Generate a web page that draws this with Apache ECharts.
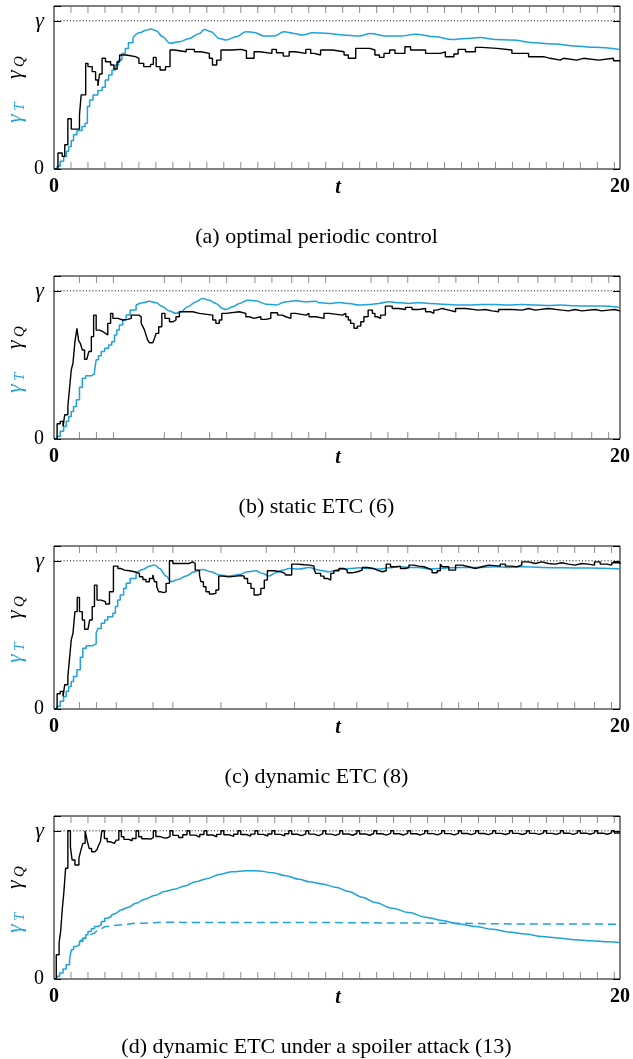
<!DOCTYPE html>
<html><head><meta charset="utf-8">
<script src="https://cdn.jsdelivr.net/npm/echarts@6/dist/echarts.min.js"></script>
<style>html,body{margin:0;padding:0;background:#fff}#c{width:633px;height:1059px}</style>
</head><body><div id="c"></div>
<script>
// ---------- DATA ----------
const xTicks = [0, 20];
const yTicks = [0, 1];
const yTickText = ['0', 'γ'];
const xName = 't';
const captions = ['(a) optimal periodic control', '(b) static ETC (6)', '(c) dynamic ETC (8)', '(d) dynamic ETC under a spoiler attack (13)'];

// event instants (tick marks on top/bottom of the frames)
const aEv = [0.6,1.2,1.8,2.4,3.0,3.6,4.2,4.8,5.4,6.0,6.6,7.2,7.8,8.4,9.0,9.6,10.2,10.8,11.4,12.0,12.6,13.2,13.8,14.4,15.0,15.6,16.2,16.8,17.4,18.0,18.6,19.2,19.8];
const bEv = [0.9,1.5,2.1,3.9,4.5,5.5,6.1,7.1,7.7,8.4,9.0,9.6,11.2,11.8,12.5,13.6,14.2,15.0,15.7,16.4,17.1,17.7,18.3,19.0,19.6];
const cEv = [0.9,1.5,2.2,3.5,4.2,5.9,7.5,8.5,9.9,10.7,11.8,12.5,13.7,14.3,15.0,15.7,16.5,17.1,17.8,18.4,19.1,19.7];
const dEv = [0.6,1.2,1.8,2.4,3.0,3.6,4.2,4.8,5.4,6.0,6.6,7.2,7.8,8.4,9.0,9.6,10.2,10.8,11.4,12.0,12.6,13.2,13.8,14.4,15.0,15.6,16.2,16.8,17.4,18.0,18.6,19.2,19.8];

// (a) gamma_Q (step)
const aQ = [[0,0],[0.14,0.108],[0.29,0.085],[0.38,0.164],[0.49,0.339],[0.61,0.269],[0.9,0.365],[0.96,0.5],[1.12,0.713],[1.2,0.691],[1.35,0.657],[1.47,0.601],[1.55,0.561],[1.61,0.641],[1.7,0.747],[1.82,0.724],[2.0,0.702],[2.12,0.675],[2.23,0.724],[2.32,0.769],[2.55,0.758],[2.88,0.747],[3.0,0.713],[3.17,0.691],[3.41,0.706],[3.51,0.753],[3.61,0.691],[3.75,0.668],[3.94,0.691],[4.1,0.803],[4.25,0.791],[4.67,0.807],[4.96,0.791],[5.19,0.78],[5.49,0.747],[5.6,0.702],[5.75,0.735],[5.9,0.803],[6.31,0.807],[6.6,0.798],[6.8,0.747],[7.07,0.791],[7.27,0.78],[7.7,0.807],[7.86,0.785],[8.1,0.762],[8.31,0.791],[8.52,0.78],[8.9,0.807],[9.07,0.78],[9.19,0.769],[9.42,0.803],[9.84,0.791],[10.25,0.769],[10.4,0.747],[10.66,0.814],[11.16,0.803],[11.34,0.769],[11.5,0.753],[11.66,0.78],[11.86,0.803],[12.05,0.78],[12.4,0.825],[12.6,0.803],[13.13,0.78],[13.66,0.791],[13.83,0.758],[14.13,0.776],[14.28,0.807],[14.54,0.791],[14.89,0.821],[15.12,0.814],[15.65,0.803],[16.18,0.78],[16.77,0.758],[17.3,0.747],[17.53,0.735],[17.89,0.747],[18.0,0.735],[18.47,0.747],[18.71,0.735],[19.24,0.747],[19.77,0.731],[20,0.731]];
// (a) gamma_T : staircase start, then smooth
const aTs = [[0,0],[0.11,0.018],[0.22,0.052],[0.34,0.085],[0.44,0.119],[0.52,0.152],[0.61,0.193],[0.69,0.231],[0.81,0.26],[0.99,0.287],[1.1,0.309],[1.18,0.422],[1.26,0.466],[1.38,0.5],[1.55,0.529],[1.7,0.552],[1.81,0.601],[1.93,0.635],[2.05,0.668],[2.16,0.702],[2.28,0.735],[2.4,0.78],[2.52,0.814],[2.63,0.852],[2.79,0.888]];
const aT = [[2.79,0.888],[3.02,0.919],[3.26,0.937],[3.43,0.944],[3.61,0.933],[3.84,0.892],[4.1,0.848],[4.43,0.859],[4.78,0.881],[5.14,0.915],[5.31,0.942],[5.55,0.926],[5.84,0.881],[6.08,0.87],[6.43,0.892],[6.78,0.926],[7.07,0.922],[7.43,0.897],[7.78,0.897],[8.13,0.926],[8.48,0.915],[8.78,0.904],[9.13,0.919],[9.72,0.915],[10.19,0.904],[10.78,0.897],[11.19,0.915],[11.72,0.897],[12.25,0.897],[12.77,0.91],[13.48,0.892],[14.07,0.874],[14.54,0.881],[15.06,0.888],[15.59,0.874],[16.18,0.87],[17.0,0.852],[17.71,0.843],[18.41,0.83],[19.12,0.821],[20,0.807]];

// (b)
const bQ = [[0,0],[0.11,0.103],[0.22,0.119],[0.32,0.085],[0.38,0.164],[0.49,0.22],[0.55,0.343],[0.61,0.466],[0.67,0.511],[0.74,0.657],[0.81,0.747],[0.87,0.664],[0.93,0.646],[1.0,0.601],[1.08,0.538],[1.16,0.534],[1.23,0.59],[1.32,0.691],[1.4,0.836],[1.49,0.735],[1.61,0.724],[1.73,0.713],[1.82,0.702],[1.9,0.78],[2.0,0.848],[2.08,0.814],[2.26,0.803],[2.43,0.807],[2.61,0.814],[2.73,0.836],[3.0,0.825],[3.08,0.78],[3.14,0.758],[3.2,0.735],[3.25,0.702],[3.31,0.668],[3.37,0.65],[3.49,0.657],[3.55,0.679],[3.61,0.713],[3.7,0.758],[3.81,0.848],[3.92,0.814],[4.08,0.791],[4.2,0.803],[4.31,0.825],[4.43,0.859],[4.9,0.848],[5.14,0.836],[5.61,0.803],[5.72,0.78],[5.84,0.803],[5.93,0.848],[6.08,0.859],[6.55,0.848],[6.78,0.825],[6.9,0.814],[7.07,0.825],[7.31,0.807],[7.49,0.814],[7.66,0.852],[7.9,0.836],[8.07,0.825],[8.19,0.814],[8.37,0.848],[8.54,0.836],[8.9,0.848],[9.01,0.825],[9.25,0.814],[9.54,0.848],[9.72,0.836],[10.19,0.848],[10.31,0.825],[10.4,0.803],[10.48,0.78],[10.6,0.747],[10.72,0.762],[10.84,0.791],[10.95,0.825],[11.1,0.87],[11.25,0.848],[11.34,0.825],[11.42,0.814],[11.54,0.836],[11.71,0.897],[11.95,0.881],[12.19,0.874],[12.42,0.888],[12.65,0.874],[12.89,0.881],[13.13,0.859],[13.3,0.848],[13.42,0.87],[13.54,0.881],[13.71,0.87],[13.95,0.859],[14.19,0.881],[14.54,0.87],[15.01,0.874],[15.25,0.865],[15.48,0.859],[15.71,0.874],[16.18,0.87],[16.54,0.881],[16.77,0.87],[17.0,0.881],[17.47,0.87],[17.94,0.865],[18.18,0.874],[18.41,0.865],[18.65,0.874],[19.12,0.865],[19.35,0.87],[19.59,0.874],[19.82,0.865],[20,0.865]];
const bTs = [[0,0],[0.11,0.018],[0.22,0.052],[0.34,0.085],[0.43,0.119],[0.52,0.152],[0.61,0.186],[0.69,0.22],[0.79,0.265],[0.9,0.35],[1.0,0.41],[1.12,0.426],[1.32,0.439],[1.43,0.455],[1.49,0.534],[1.57,0.561],[1.67,0.59],[1.79,0.612],[1.93,0.635],[2.04,0.657],[2.14,0.702],[2.22,0.735],[2.31,0.769],[2.43,0.803],[2.55,0.836],[2.69,0.87],[2.9,0.904]];
const bT = [[2.9,0.904],[3.14,0.919],[3.37,0.93],[3.61,0.919],[3.84,0.892],[4.08,0.863],[4.31,0.848],[4.49,0.859],[4.72,0.892],[5.02,0.926],[5.25,0.948],[5.49,0.937],[5.72,0.915],[5.96,0.881],[6.08,0.874],[6.31,0.892],[6.55,0.915],[6.84,0.937],[7.13,0.933],[7.49,0.91],[7.84,0.904],[8.19,0.926],[8.54,0.933],[8.9,0.926],[9.25,0.93],[9.37,0.919],[9.72,0.915],[10.07,0.922],[10.42,0.915],[10.78,0.904],[11.13,0.908],[11.48,0.915],[11.83,0.926],[12.19,0.919],[12.54,0.915],[12.89,0.919],[13.25,0.915],[13.71,0.91],[14.19,0.904],[14.65,0.904],[15.12,0.908],[15.59,0.908],[16.06,0.904],[16.53,0.908],[17.0,0.904],[17.47,0.901],[17.94,0.904],[18.41,0.899],[18.88,0.897],[19.35,0.897],[20,0.888]];

// (c)
const cQ = [[0,0],[0.11,0.103],[0.22,0.119],[0.32,0.085],[0.38,0.164],[0.49,0.22],[0.55,0.343],[0.61,0.466],[0.67,0.511],[0.74,0.657],[0.82,0.753],[0.9,0.657],[1.0,0.601],[1.08,0.538],[1.2,0.534],[1.26,0.601],[1.35,0.691],[1.43,0.836],[1.52,0.735],[1.67,0.724],[1.82,0.709],[1.96,0.791],[2.1,0.964],[2.26,0.948],[2.37,0.937],[2.49,0.933],[2.67,0.926],[2.84,0.915],[3.02,0.892],[3.14,0.874],[3.25,0.859],[3.37,0.881],[3.49,0.904],[3.55,0.859],[3.63,0.825],[3.7,0.791],[3.78,0.785],[3.87,0.791],[3.96,0.848],[4.08,1.0],[4.2,0.982],[4.78,0.993],[4.9,0.982],[4.99,0.937],[5.14,0.904],[5.19,0.859],[5.28,0.825],[5.37,0.791],[5.49,0.776],[5.61,0.78],[5.72,0.803],[5.82,0.897],[5.96,0.892],[6.19,0.897],[6.43,0.901],[6.6,0.897],[6.72,0.881],[6.84,0.848],[6.96,0.814],[7.07,0.769],[7.19,0.776],[7.31,0.814],[7.43,0.87],[7.54,0.933],[7.78,0.926],[8.01,0.919],[8.13,0.915],[8.19,0.904],[8.4,0.978],[8.6,0.973],[8.84,0.971],[9.04,0.964],[9.19,0.942],[9.25,0.915],[9.42,0.897],[9.54,0.881],[9.66,0.87],[9.78,0.915],[9.89,0.933],[10.07,0.948],[10.25,0.937],[10.36,0.919],[10.54,0.926],[10.72,0.937],[10.89,0.955],[11.07,0.948],[11.3,0.937],[11.42,0.926],[11.6,0.933],[11.74,0.978],[11.89,0.96],[12.07,0.964],[12.24,0.948],[12.42,0.955],[12.54,0.971],[12.71,0.964],[12.89,0.96],[13.07,0.948],[13.24,0.937],[13.36,0.919],[13.54,0.933],[13.65,0.978],[13.72,0.96],[13.95,0.937],[14.19,0.971],[14.42,0.96],[14.66,0.948],[14.89,0.96],[15.12,0.971],[15.36,0.964],[15.77,0.978],[15.95,0.964],[16.13,0.96],[16.36,0.971],[16.53,0.993],[16.77,0.982],[17.0,0.993],[17.24,0.982],[17.47,0.978],[17.71,0.987],[17.94,0.978],[18.18,0.971],[18.41,0.982],[18.65,0.978],[18.88,0.971],[19.1,0.993],[19.3,0.978],[19.53,0.971],[19.71,0.987],[20,0.978]];
const cTs = [[0,0],[0.11,0.018],[0.22,0.052],[0.34,0.085],[0.43,0.119],[0.52,0.152],[0.61,0.186],[0.69,0.22],[0.81,0.265],[0.93,0.35],[1.02,0.41],[1.14,0.426],[1.35,0.439],[1.49,0.511],[1.55,0.544],[1.67,0.578],[1.79,0.601],[1.9,0.623],[2.08,0.646],[2.17,0.691],[2.25,0.735],[2.34,0.769],[2.46,0.814],[2.55,0.848],[2.69,0.881],[2.9,0.915]];
const cT = [[2.9,0.915],[3.14,0.942],[3.37,0.964],[3.55,0.971],[3.73,0.948],[3.96,0.897],[4.14,0.859],[4.37,0.874],[4.67,0.897],[4.96,0.926],[5.25,0.942],[5.55,0.926],[5.84,0.904],[6.19,0.897],[6.55,0.908],[6.84,0.926],[7.13,0.933],[7.37,0.915],[7.6,0.897],[7.84,0.919],[8.07,0.937],[8.31,0.948],[8.66,0.944],[9.01,0.955],[9.37,0.937],[9.72,0.926],[10.07,0.942],[10.42,0.948],[10.78,0.953],[11.13,0.948],[11.48,0.944],[11.83,0.953],[12.19,0.96],[12.54,0.955],[12.89,0.955],[13.25,0.946],[13.6,0.948],[13.95,0.953],[14.3,0.955],[15.12,0.955],[15.59,0.96],[16.06,0.955],[16.53,0.96],[17.24,0.955],[17.94,0.953],[18.88,0.951],[20,0.944]];

// (d)
const dQ = [[0,0],[0.08,0.164],[0.18,0.242],[0.24,0.332],[0.29,0.466],[0.35,0.59],[0.41,0.747],[0.49,1.0],[0.58,0.892],[0.64,0.803],[0.74,0.769],[0.88,0.814],[0.95,0.87],[1.02,0.915],[1.1,1.0],[1.17,0.937],[1.24,0.881],[1.33,0.859],[1.45,0.852],[1.52,0.874],[1.58,0.904],[1.64,0.926],[1.69,1.0],[1.78,0.948],[1.88,0.926],[2.0,0.915],[2.13,0.92],[2.2,0.937],[2.29,1.0],[2.38,0.96],[2.47,0.942],[2.64,0.933],[2.76,0.948],[2.9,1.0],[2.99,0.96],[3.1,0.946],[3.3,0.944],[3.42,0.955],[3.51,1.0],[3.6,0.962],[3.72,0.951],[3.92,0.953],[4.01,0.962],
[4.1,1],[4.2,0.969],[4.4,0.955],[4.55,0.973],[4.7,1],[4.8,0.971],[5.0,0.958],[5.15,0.975],[5.3,1],[5.4,0.972],[5.6,0.96],[5.75,0.976],[5.9,1],[6.0,0.973],[6.2,0.962],[6.35,0.977],[6.5,1],[6.6,0.975],[6.8,0.964],[6.95,0.978],[7.1,1],[7.2,0.976],[7.4,0.965],[7.55,0.979],[7.7,1],[7.8,0.976],[8.0,0.966],[8.15,0.98],[8.3,1],[8.4,0.977],[8.6,0.967],[8.75,0.98],[8.9,1],[9.0,0.978],[9.2,0.968],[9.35,0.981],[9.5,1],[9.6,0.978],[9.8,0.969],[9.95,0.981],[10.1,1],[10.2,0.979],[10.4,0.97],[10.55,0.982],[10.7,1],[10.8,0.979],[11.0,0.97],[11.15,0.982],[11.3,1],[11.4,0.98],[11.6,0.971],[11.75,0.983],[11.9,1],[12.0,0.98],[12.2,0.972],[12.35,0.983],[12.5,1],[12.6,0.98],[12.8,0.972],[12.95,0.983],[13.1,1],[13.2,0.981],[13.4,0.973],[13.55,0.984],[13.7,1],[13.8,0.981],[14.0,0.973],[14.15,0.984],[14.3,1],[14.4,0.982],[14.6,0.974],[14.75,0.984],[14.9,1],[15.0,0.982],[15.2,0.974],[15.35,0.984],[15.5,1],[15.6,0.983],[15.8,0.975],[15.95,0.985],[16.1,1],[16.2,0.983],[16.4,0.975],[16.55,0.985],[16.7,1],[16.8,0.983],[17.0,0.976],[17.15,0.986],[17.3,1],[17.4,0.983],[17.6,0.976],[17.75,0.986],[17.9,1],[18.0,0.984],[18.2,0.976],[18.35,0.986],[18.5,1],[18.6,0.984],[18.8,0.977],[18.95,0.986],[19.1,1],[19.2,0.984],[19.4,0.977],[19.55,0.986],[19.7,1],[19.8,0.985],[20,0.985]];
const dTs = [[0,0],[0.11,0.018],[0.2,0.04],[0.32,0.067],[0.43,0.096],[0.55,0.13],[0.61,0.197],[0.69,0.22],[0.79,0.231],[0.9,0.253],[1.02,0.276],[1.12,0.298],[1.2,0.321],[1.32,0.339],[1.43,0.354],[1.55,0.365],[1.67,0.388],[1.79,0.41],[1.9,0.422],[2.02,0.43]];
const dT = [[2.02,0.43],[2.14,0.439],[2.37,0.466],[2.61,0.482],[2.9,0.511],[3.2,0.538],[3.55,0.563],[3.9,0.59],[4.25,0.605],[4.61,0.628],[5.02,0.657],[5.43,0.679],[5.84,0.706],[6.31,0.724],[6.78,0.731],[7.25,0.729],[7.72,0.717],[8.19,0.697],[8.66,0.673],[9.01,0.657],[9.48,0.641],[9.95,0.619],[10.42,0.59],[10.89,0.552],[11.36,0.516],[11.95,0.478],[12.54,0.448],[13.13,0.417],[13.71,0.395],[14.3,0.372],[14.89,0.354],[15.48,0.336],[16.06,0.318],[16.65,0.303],[17.24,0.287],[17.83,0.276],[18.41,0.265],[18.99,0.258],[19.59,0.251],[20,0.247]];
const dTd = [[0.9,0.253],[1.14,0.276],[1.37,0.305],[1.61,0.336],[1.84,0.354],[2.31,0.365],[3.02,0.377],[3.96,0.383],[5.14,0.381],[6.31,0.381],[7.49,0.381],[9.01,0.381],[13.71,0.377],[16.06,0.372],[20,0.37]];

// ---------- CHART ----------
const CY = '#1ea2dc', BK = '#000';
const SERIF = '"Liberation Serif","Times New Roman",serif';
const panels = [
  {Q: aQ, Ts: aTs, T: aT, ev: aEv},
  {Q: bQ, Ts: bTs, T: bT, ev: bEv},
  {Q: cQ, Ts: cTs, T: cT, ev: cEv},
  {Q: dQ, Ts: dTs, T: dT, ev: dEv, Td: dTd}
];
const TOP0 = 6, STEP = 270, H = 163, LEFT = 54, W = 568, YMAX = 1.1;
const grid = [], xAxis = [], yAxis = [], series = [], graphic = [];
panels.forEach((p, i) => {
  const top = TOP0 + STEP * i;
  grid.push({left: LEFT, top: top, width: W, height: H, show: true, borderColor: '#000', borderWidth: 1, backgroundColor: 'transparent'});
  xAxis.push({type: 'value', gridIndex: i, min: 0, max: 20, interval: 20,
    axisLine: {show: false}, axisTick: {show: false}, splitLine: {show: false},
    axisLabel: {formatter: v => xTicks.includes(v) ? String(v) : '', fontFamily: SERIF, fontSize: 20, fontWeight: 'bold', color: '#000', margin: 8}});
  yAxis.push({type: 'value', gridIndex: i, min: 0, max: YMAX, interval: 1,
    axisLine: {show: false}, splitLine: {show: false},
    axisTick: {show: true, inside: true, length: 7, lineStyle: {color: '#000', width: 1}},
    axisLabel: {formatter: v => { const k = yTicks.indexOf(v); return k < 0 ? '' : (k === 1 ? '{g|' + yTickText[k] + '}' : yTickText[k]); },
      fontFamily: SERIF, fontSize: 20, color: '#000', margin: 10,
      rich: {g: {fontFamily: SERIF, fontSize: 22, fontStyle: 'italic', color: '#000'}}}});
  yAxis.push({type: 'value', gridIndex: i, min: 0, max: YMAX, interval: 1, position: 'right',
    axisLine: {show: false}, splitLine: {show: false}, axisLabel: {show: false},
    axisTick: {show: true, inside: true, length: 7, lineStyle: {color: '#000', width: 1}}});
  const yi = 2 * i;
  series.push({type: 'line', xAxisIndex: i, yAxisIndex: yi, data: [[0, 1], [20, 1]], symbol: 'none', silent: true,
    lineStyle: {color: '#000', width: 1, type: [1, 2.2]}, z: 1});
  series.push({type: 'scatter', xAxisIndex: i, yAxisIndex: yi, data: p.ev.map(t => [t, 0]), symbol: 'rect', symbolSize: [1, 7], symbolOffset: [0, -3.5],
    itemStyle: {color: '#707070'}, clip: false, silent: true, z: 1});
  series.push({type: 'scatter', xAxisIndex: i, yAxisIndex: yi, data: p.ev.map(t => [t, YMAX]), symbol: 'rect', symbolSize: [1, 7], symbolOffset: [0, 3.5],
    itemStyle: {color: '#707070'}, clip: false, silent: true, z: 1});
  series.push({type: 'line', xAxisIndex: i, yAxisIndex: yi, data: p.Ts, step: 'end', symbol: 'none', lineStyle: {color: CY, width: 1.5}, z: 3});
  series.push({type: 'line', xAxisIndex: i, yAxisIndex: yi, data: p.T, smooth: 0.35, smoothMonotone: 'x', symbol: 'none', lineStyle: {color: CY, width: 1.5}, z: 3});
  if (p.Td) series.push({type: 'line', xAxisIndex: i, yAxisIndex: yi, data: p.Td, smooth: 0.35, smoothMonotone: 'x', symbol: 'none', lineStyle: {color: CY, width: 1.5, type: [8, 5]}, z: 3});
  series.push({type: 'line', xAxisIndex: i, yAxisIndex: yi, data: p.Q, step: 'end', symbol: 'none', lineStyle: {color: BK, width: 1.4}, z: 4});
  graphic.push({type: 'group', x: 15, y: top + 117, rotation: Math.PI / 2, silent: true, children: [
    {type: 'text', x: 0, y: 0, style: {text: 'γ', fill: CY, font: 'italic 22px ' + SERIF, textAlign: 'left', textVerticalAlign: 'middle'}},
    {type: 'text', x: 12, y: 5, style: {text: 'T', fill: CY, font: 'italic 15px ' + SERIF, textAlign: 'left', textVerticalAlign: 'middle'}},
    {type: 'text', x: 44, y: 0, style: {text: 'γ', fill: BK, font: 'italic 22px ' + SERIF, textAlign: 'left', textVerticalAlign: 'middle'}},
    {type: 'text', x: 56, y: 5, style: {text: 'Q', fill: BK, font: 'italic 15px ' + SERIF, textAlign: 'left', textVerticalAlign: 'middle'}}
  ]});
  graphic.push({type: 'text', x: LEFT + W / 2, y: top + H + 19, silent: true,
    style: {text: xName, fill: '#000', font: 'italic bold 20px ' + SERIF, textAlign: 'center', textVerticalAlign: 'middle'}});
  graphic.push({type: 'text', x: 316.5, y: top + 231, silent: true,
    style: {text: captions[i], fill: '#000', font: '22px ' + SERIF, textAlign: 'center', textVerticalAlign: 'middle'}});
});
const chart = echarts.init(document.getElementById('c'), null, {renderer: 'canvas'});
chart.setOption({animation: false, backgroundColor: '#fff', grid, xAxis, yAxis, series, graphic});
</script></body></html>
